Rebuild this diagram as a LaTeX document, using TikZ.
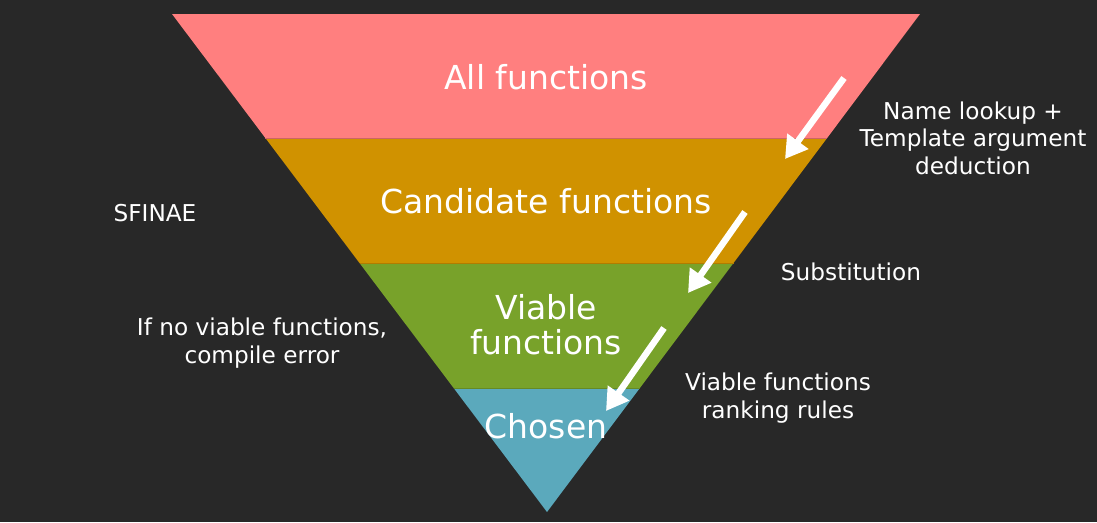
\documentclass[tikz,border=0pt]{standalone}
\usepackage{fontspec}
\setmainfont{DejaVu Sans}
\usetikzlibrary{calc,arrows.meta}
\definecolor{bgdark}{HTML}{282828}
\definecolor{bandpink}{HTML}{FF7F7F}
\definecolor{bandorange}{HTML}{D09200}
\definecolor{bandgreen}{HTML}{78A22A}
\definecolor{bandteal}{HTML}{5BA9BC}
\tikzset{
  bandlabel/.style={text=white, font=\fontsize{33}{35}\selectfont, align=center, inner sep=0pt},
  sidelabel/.style={text=white, font=\fontsize{23.2}{27.5}\selectfont, align=center, inner sep=0pt},
  flowarrow/.style={draw=white, line width=6.5pt, -{Triangle[width=25pt,length=22pt]}},
  seam/.style={line width=0.8pt}
}
\begin{document}
\begin{tikzpicture}[x=1pt,y=-1pt]
  % canvas
  \fill[bgdark] (0,0) rectangle (1097,522);
  \useasboundingbox (0,0) rectangle (1097,522);

  % funnel corners
  \coordinate (TL) at (172,14);
  \coordinate (TR) at (920,14);
  \coordinate (B)  at (547,512);
  % band boundaries along the two slanted sides
  \coordinate (L1) at ($(TL)!0.249!(B)$);
  \coordinate (R1) at ($(TR)!0.249!(B)$);
  \coordinate (L2) at ($(TL)!0.5!(B)$);
  \coordinate (R2) at ($(TR)!0.5!(B)$);
  \coordinate (L3) at ($(TL)!0.751!(B)$);
  \coordinate (R3) at ($(TR)!0.751!(B)$);

  % bands
  \fill[bandpink]   (TL) -- (TR) -- (R1) -- (L1) -- cycle;
  \fill[bandorange] (L1) -- (R1) -- (R2) -- (L2) -- cycle;
  \fill[bandgreen]  (L2) -- (R2) -- (R3) -- (L3) -- cycle;
  \fill[bandteal]   (L3) -- (R3) -- (B) -- cycle;
  \draw[seam, bandpink!80!black]   (L1) -- (R1);
  \draw[seam, bandorange!85!black] (L2) -- (R2);
  \draw[seam, bandgreen!85!black]  (L3) -- (R3);

  % band labels
  \node[bandlabel] (all)    at (546,77)  {All functions};
  \node[bandlabel] (cand)   at (546,201) {Candidate functions};
  \node[bandlabel] (viable) at (546,325) {Viable\\functions};
  \node[bandlabel] (chosen) at (546,426) {Chosen};

  % side notes
  \node[sidelabel] (lookup)  at (973,138) {Name lookup +\\Template argument\\deduction};
  \node[sidelabel] (sfinae)  at (155,213) {SFINAE};
  \node[sidelabel] (subst)   at (851,272) {Substitution};
  \node[sidelabel] (noviab)  at (262,343) {If no viable functions,\\compile error};
  \node[sidelabel] (ranking) at (778,398) {Viable functions\\ranking rules};

  % step arrows
  \coordinate (a1s) at (844,78);
  \coordinate (a1e) at (785,159);
  \coordinate (a2s) at (745,212);
  \coordinate (a2e) at (688,293);
  \coordinate (a3s) at (664,328);
  \coordinate (a3e) at (606,411);
  \draw[flowarrow] (a1s) -- (a1e);
  \draw[flowarrow] (a2s) -- (a2e);
  \draw[flowarrow] (a3s) -- (a3e);
\end{tikzpicture}
\end{document}
